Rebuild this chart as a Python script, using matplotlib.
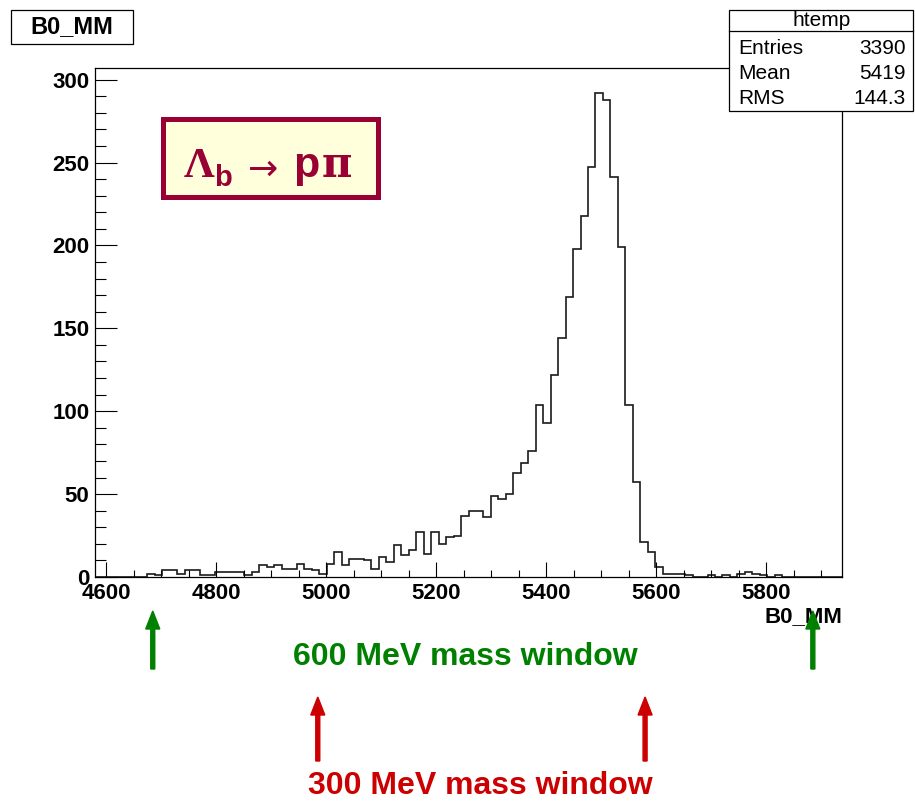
import matplotlib
matplotlib.use("Agg")
import matplotlib.pyplot as plt
import matplotlib.transforms as mtransforms
from matplotlib.patches import Rectangle, FancyArrow
from matplotlib.ticker import MultipleLocator
import numpy as np

# ---------------- data ----------------
x_min, x_max = 4580, 5938
n_bins = 100
counts = [0, 0, 0, 0, 0, 0, 0, 2, 1, 4,
          4, 2, 4, 4, 1, 1, 3, 3, 3, 3,
          1, 3, 7, 6, 7, 5, 5, 8, 5, 4,
          2, 8, 15, 7, 11, 11, 10, 5, 12, 9,
          19, 13, 16, 27, 14, 27, 20, 24, 25, 37,
          40, 40, 36, 49, 47, 50, 63, 69, 76, 104,
          93, 122, 144, 169, 198, 218, 247, 292, 288, 241,
          199, 104, 57, 21, 15, 6, 2, 2, 2, 1,
          0, 0, 1, 0, 1, 0, 2, 3, 2, 1,
          0, 1, 0, 0, 0, 0, 0, 0, 0, 0]
x_ticks = [4600, 4800, 5000, 5200, 5400, 5600, 5800]
y_ticks = [0, 50, 100, 150, 200, 250, 300]
stats_labels = ["Entries", "Mean", "RMS"]
stats_values = ["3390", "5419", "144.3"]
window600 = [4685, 5885]
window300 = [4985, 5580]

W, H = 915, 805
fig = plt.figure(figsize=(W / 100, H / 100), dpi=100)
fig.patch.set_facecolor("white")
pix = mtransforms.Affine2D().scale(1 / W, 1 / H) + fig.transFigure

def fy(y):
    return H - y

L, R, T, B = 95, 842, 68, 577
ax = fig.add_axes([L / W, 1 - B / H, (R - L) / W, (B - T) / H])
edges = np.linspace(x_min, x_max, n_bins + 1)
ax.stairs(counts, edges, color="#1a1a1a", lw=1.2)
ax.set_xlim(x_min, x_max)
ax.set_ylim(0, 307)
ax.set_xticks(x_ticks)
ax.set_yticks(y_ticks)
ax.xaxis.set_minor_locator(MultipleLocator(50))
ax.yaxis.set_minor_locator(MultipleLocator(10))
ax.tick_params(axis="x", which="major", direction="in", length=10.8, width=0.8, pad=4)
ax.tick_params(axis="x", which="minor", direction="in", length=5.2, width=0.8)
ax.tick_params(axis="y", which="major", direction="in", length=15.8, width=0.8, pad=4)
ax.tick_params(axis="y", which="minor", direction="in", length=7.9, width=0.8)
for lab in ax.get_xticklabels() + ax.get_yticklabels():
    lab.set_fontfamily("Liberation Sans")
    lab.set_fontweight("bold")
    lab.set_fontsize(16)
for s in ax.spines.values():
    s.set_linewidth(0.9)
    s.set_color("black")

# x-axis title
fig.text(842 / W, fy(617) / H, "B0_MM", ha="right", va="center",
         fontsize=16, fontweight="bold", family="Liberation Sans")

# title box
fig.add_artist(Rectangle((11, fy(44)), 122, 34, transform=pix, facecolor="white",
                         edgecolor="black", lw=0.9, zorder=2))
fig.text(72 / W, fy(27) / H, "B0_MM", ha="center", va="center", fontsize=17,
         fontweight="bold", family="Liberation Sans", zorder=3)

# stats box
fig.add_artist(Rectangle((729, fy(111)), 184, 101, transform=pix, facecolor="white",
                         edgecolor="black", lw=0.9, zorder=2))
fig.add_artist(plt.Line2D([729, 913], [fy(31), fy(31)], transform=pix, color="black",
                          lw=0.9, zorder=3))
fig.text(822 / W, fy(20) / H, "htemp", ha="center", va="center", fontsize=15,
         family="Liberation Sans", zorder=4)
for i, (lab, val) in enumerate(zip(stats_labels, stats_values)):
    yy = fy(48 + 25.5 * i) / H
    fig.text(738 / W, yy, lab, ha="left", va="center", fontsize=15,
             family="Liberation Sans", zorder=4)
    fig.text(906 / W, yy, val, ha="right", va="center", fontsize=15,
             family="Liberation Sans", zorder=4)

# decay label box
maroon = "#990033"
fig.add_artist(Rectangle((162.5, fy(197.5)), 215, 78, transform=pix, facecolor="#ffffdc",
                         edgecolor=maroon, lw=3.6, zorder=2))
pieces = [
    ("\u039b", "Liberation Serif", 31, "bold", 184, 177, "left", "baseline"),
    ("b", "Liberation Sans", 21, "bold", 214, 186, "left", "baseline"),
    ("\u2192", "DejaVu Sans", 26, "normal", 263, 166, "center", "center_baseline"),
    ("p", "Liberation Sans", 31, "bold", 293, 177, "left", "baseline"),
    ("\u03c0", "DejaVu Serif", 30, "bold", 322, 177, "left", "baseline"),
]
for s, fam, fs, fw, px, py, ha, va in pieces:
    fig.text(px / W, fy(py) / H, s, family=fam, fontsize=fs, fontweight=fw,
             color=maroon, ha=ha, va=va, zorder=3)

# arrows and window texts
green = "#008000"
red = "#cc0000"
xpix = ax.transData
for xv in window600:
    xd = xpix.transform((xv, 0))[0]
    fig.add_artist(FancyArrow(xd, fy(669), 0, 58, width=4, head_width=14, head_length=18,
                              length_includes_head=True, transform=pix, color=green, zorder=5))
for xv in window300:
    xd = xpix.transform((xv, 0))[0]
    fig.add_artist(FancyArrow(xd, fy(761), 0, 64, width=4, head_width=14, head_length=18,
                              length_includes_head=True, transform=pix, color=red, zorder=5))
fig.text(465 / W, fy(657) / H, "600 MeV mass window", ha="center", va="center",
         fontsize=23, fontweight="bold", color=green, family="Liberation Sans")
fig.text(480 / W, fy(786) / H, "300 MeV mass window", ha="center", va="center",
         fontsize=23, fontweight="bold", color=red, family="Liberation Sans")

fig.savefig("out.png", dpi=100, facecolor="white")
